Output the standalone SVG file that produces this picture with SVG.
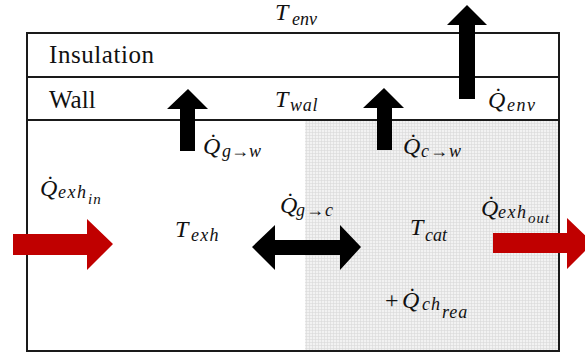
<svg xmlns="http://www.w3.org/2000/svg" width="585" height="358" viewBox="0 0 585 358">
<style>
.frame{fill:none;stroke:#1a1a1a;stroke-width:2}
text{font-family:'Liberation Serif','DejaVu Serif',serif;fill:#111}
.lbl{font-size:25px}
.m{font-style:italic;font-size:24px}
.s{font-size:18px}
.ss{font-size:15px}
.up{font-style:normal}
.blk{fill:#000}
.red{fill:#c00000}
</style>
<defs>
<pattern id="grid" width="3" height="3" patternUnits="userSpaceOnUse">
<rect width="3" height="3" fill="#f2f2f2"/>
<path d="M0 0.5H3M0.5 0V3" stroke="#d9d9d9" stroke-width="0.6"/>
</pattern>
</defs>
<rect width="585" height="358" fill="#fff"/>
<g id="catalyst">
<rect x="305" y="120" width="254" height="231" fill="url(#grid)"/>
</g>
<g id="layers">
<rect class="frame" x="27" y="33" width="532" height="318"/>
<line class="frame" x1="27" y1="77" x2="559" y2="77"/>
<line class="frame" x1="27" y1="120" x2="559" y2="120"/>
</g>
<g id="insulation"><text class="lbl" x="49" y="63" textLength="105">Insulation</text></g>
<g id="wall"><text class="lbl" x="49" y="108">Wall</text></g>
<g id="t-env"><text class="m" x="275" y="20" font-size="21">T<tspan class="s" x="292" y="25">env</tspan></text></g>
<g id="t-wal"><text class="m" x="275" y="107">T<tspan class="s" x="290" y="111" letter-spacing="0.7">wal</tspan></text></g>
<g id="t-exh"><text class="m" x="175" y="237">T<tspan class="s" x="191" y="241" letter-spacing="1.3">exh</tspan></text></g>
<g id="t-cat"><text class="m" x="410" y="235">T<tspan class="s" x="425" y="241">cat</tspan></text></g>
<g id="connectors">
<polygon class="blk" points="180,151 195,151 195,109 208,109 188,89 167,109 180,109"/>
<polygon class="blk" points="377,150 392,150 392,108 404,108 384,88 363,108 377,108"/>
<polygon class="blk" points="459,99 475,99 475,25 487,25 467,5 447,25 459,25"/>
<polygon class="blk" points="252,247 275,225 275,240 340,240 340,225 361,247 340,270 340,255 275,255 275,270"/>
<polygon class="red" points="13,234 87,234 87,219 113,244 87,270 87,255 13,255"/>
<polygon class="red" points="493,233 567,233 567,218 593,243 567,269 567,253 493,253"/>
</g>
<g id="q-gw"><text class="m" x="203" y="154">Q̇<tspan class="s" x="222" y="157">g→w</tspan></text></g>
<g id="q-cw"><text class="m" x="403" y="154">Q̇<tspan class="s" x="421" y="157" letter-spacing="1">c→w</tspan></text></g>
<g id="q-env"><text class="m" x="488" y="108">Q̇<tspan class="s" x="507" y="111" font-size="21" letter-spacing="1.5">env</tspan></text></g>
<g id="q-gc"><text class="m" x="280" y="213">Q̇<tspan class="s" x="296" y="216" letter-spacing="1">g→c</tspan></text></g>
<g id="q-exh-in"><text class="m" x="40" y="196">Q̇<tspan class="s" x="58" y="198" letter-spacing="1.5">exh</tspan><tspan class="ss" x="88" y="204" letter-spacing="1">in</tspan></text></g>
<g id="q-exh-out"><text class="m" x="481" y="216">Q̇<tspan class="s" x="498" y="218" letter-spacing="1.5">exh</tspan><tspan class="ss" x="528" y="223" letter-spacing="1">out</tspan></text></g>
<g id="q-ch-rea"><text class="m" x="385" y="308"><tspan class="up">+</tspan><tspan x="402">Q̇</tspan><tspan class="s" x="422" y="310" letter-spacing="1">ch</tspan><tspan class="s" x="442" y="318" font-size="16" letter-spacing="1">rea</tspan></text></g>
</svg>
